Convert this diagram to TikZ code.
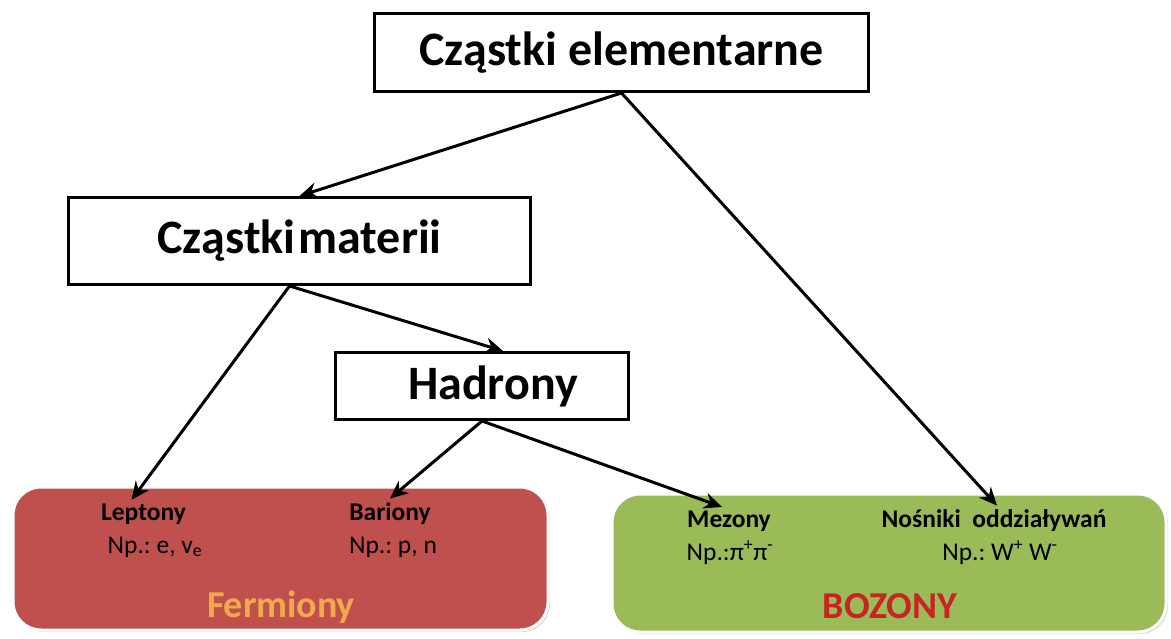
\documentclass[tikz,border=0pt]{standalone}
\usepackage{fontspec}
\setmainfont{Carlito}
\usepackage{xcolor}
\usetikzlibrary{arrows.meta,shadows}
\definecolor{fermred}{RGB}{192,80,77}
\definecolor{bozgreen}{RGB}{155,187,89}
\definecolor{fermgold}{RGB}{242,168,76}
\definecolor{bozred}{RGB}{200,36,36}
\frenchspacing

\begin{document}
\begin{tikzpicture}[x=1pt,y=-1pt,
  box/.style={draw,line width=3pt,fill=white,font=\fontsize{48}{52}\selectfont\bfseries},
  group/.style={rounded corners=28pt,draw=white,line width=3pt,
    drop shadow={opacity=0.3,shadow xshift=2pt,shadow yshift=-2pt}},
  head/.style={anchor=base,font=\fontsize{25.5}{30}\selectfont\bfseries},
  example/.style={anchor=base,font=\fontsize{25.5}{30}\selectfont},
  kind/.style={anchor=base,font=\fontsize{38}{42}\selectfont\bfseries},
  link/.style={line width=3pt,-{Stealth[length=18pt,width=16pt]}}]
\useasboundingbox (0,0) rectangle (1171,639);
% the two groups
\draw[group,fill=fermred] (13,487) rectangle (548,630);
\draw[group,fill=bozgreen] (612,494) rectangle (1166,632);
% boxes
\node[box,minimum width=494,minimum height=78] (elem) at (621.5,52.5) {Cząstki elementarne};
\node[box,minimum width=462,minimum height=87] (materii) at (299.5,241) {Cząstki\hspace{3pt}materii};
\node[box,minimum width=293,minimum height=67,text width=275,align=center] (hadrony) at (482,386) {\hspace*{22pt}Hadrony};
% fermiony
\node[head] (leptony) at (143.5,520) {Leptony};
\node[example] (lepex) at (155,553) {Np.: e, v\textsubscript{e}};
\node[head] (bariony) at (390,520) {Bariony};
\node[example] (barex) at (393,553) {Np.: p, n};
\node[kind,text=fermgold] (fermiony) at (281,617) {Fermiony};
% bozony
\node[head] (mezony) at (729,527) {Mezony};
\node[example] (mezex) at (730,560) {Np.:π\textsuperscript{+}π\textsuperscript{-}};
\node[head] (nosniki) at (994,527) {Nośniki\ \ oddziaływań};
\node[example] (nosex) at (1000,560) {Np.: W\textsuperscript{+} W\textsuperscript{-}};
\node[kind,text=bozred] (bozony) at (890,618) {BOZONY};
% arrows
\draw[link] (elem.south) -- (materii.north);
\draw[link] (elem.south) -- ([xshift=3pt]nosniki.north);
\draw[link] ([xshift=-10pt]materii.south) -- ([xshift=-12pt]leptony.north);
\draw[link] ([xshift=-10pt]materii.south) -- ([xshift=21pt]hadrony.north);
\draw[link] (hadrony.south) -- (bariony.north);
\draw[link] (hadrony.south) -- ([xshift=-7pt]mezony.north);
\end{tikzpicture}
\end{document}
